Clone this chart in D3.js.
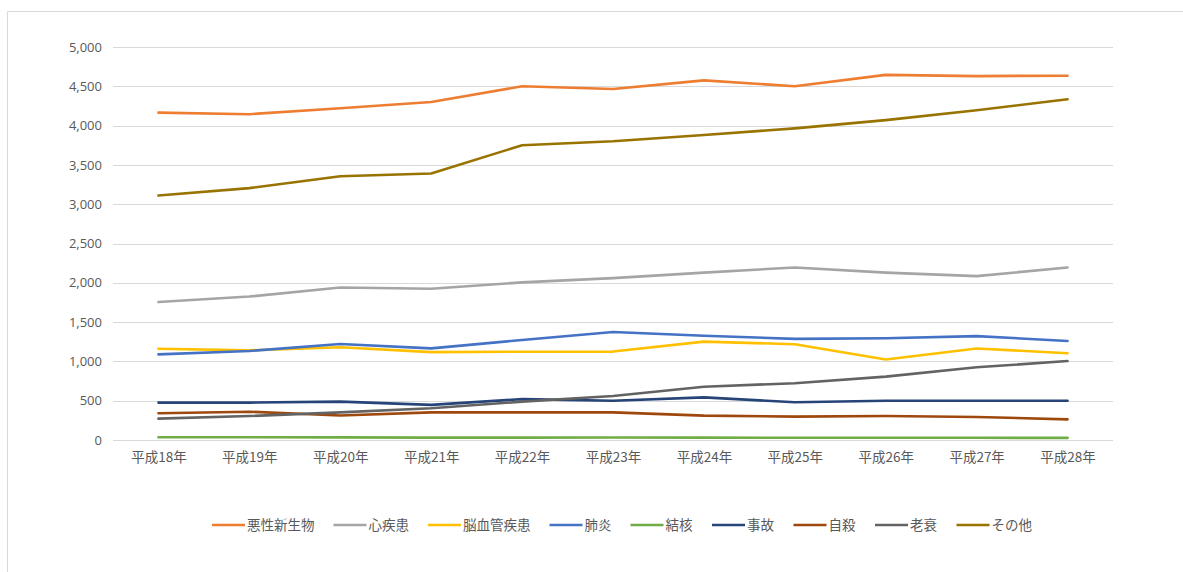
<!DOCTYPE html>
<html>
<head>
<meta charset="utf-8">
<script src="https://cdn.jsdelivr.net/npm/d3@7"></script>
<style>
  html, body { margin: 0; padding: 0; background: #fff; }
  svg { display: block; }
  text { font-family: "Noto Sans CJK JP", "Noto Sans", sans-serif; fill: #595959; }
</style>
</head>
<body>
<svg id="chart" width="1183" height="572"></svg>
<script>
const categories = ["平成18年","平成19年","平成20年","平成21年","平成22年","平成23年","平成24年","平成25年","平成26年","平成27年","平成28年"];
const seriesNames = ["悪性新生物","心疾患","脳血管疾患","肺炎","結核","事故","自殺","老衰","その他"];
const seriesColors = ["#ED7D31","#A5A5A5","#FFC000","#4472C4","#70AD47","#264478","#9E480E","#636363","#997300"];
const akusei   = [4165, 4145, 4220, 4300, 4500, 4465, 4575, 4500, 4645, 4630, 4635];
const shinshik = [1755, 1825, 1940, 1925, 2005, 2060, 2130, 2195, 2130, 2085, 2195];
const noukekk  = [1160, 1140, 1180, 1118, 1123, 1125, 1252, 1218, 1025, 1165, 1103];
const haien    = [1090, 1132, 1222, 1166, 1272, 1375, 1327, 1287, 1295, 1322, 1260];
const kekkaku  = [35, 35, 33, 30, 30, 32, 30, 28, 28, 28, 27];
const jiko     = [476, 476, 488, 447, 520, 500, 542, 480, 500, 500, 500];
const jisatsu  = [340, 360, 312, 352, 352, 352, 310, 298, 305, 293, 263];
const rousui   = [272, 305, 352, 403, 488, 560, 678, 722, 806, 925, 1005];
const sonota   = [3110, 3205, 3355, 3390, 3750, 3800, 3880, 3965, 4070, 4195, 4335];
const yTicks   = [0, 500, 1000, 1500, 2000, 2500, 3000, 3500, 4000, 4500, 5000];

const seriesValues = [akusei, shinshik, noukekk, haien, kekkaku, jiko, jisatsu, rousui, sonota];

const svg = d3.select("#chart");

// chart border
svg.append("path")
  .attr("d", "M7.5,572 L7.5,11.5 L1183,11.5")
  .attr("fill", "none").attr("stroke", "#d9d9d9").attr("stroke-width", 1);

const plotLeft = 113, plotRight = 1113, plotTop = 47, plotBottom = 440;

const x = d3.scalePoint().domain(categories).range([plotLeft, plotRight]).padding(0.5);
const y = d3.scaleLinear().domain([0, 5000]).range([plotBottom, plotTop]);

// gridlines
svg.append("g")
  .selectAll("line").data(yTicks).join("line")
  .attr("x1", plotLeft).attr("x2", plotRight)
  .attr("y1", d => Math.round(y(d)) + 0.5).attr("y2", d => Math.round(y(d)) + 0.5)
  .attr("stroke", "#d9d9d9").attr("stroke-width", 1);

// y axis
const yAxis = svg.append("g")
  .attr("transform", `translate(${plotLeft},0)`)
  .call(d3.axisLeft(y).tickValues(yTicks).tickFormat(d3.format(",")).tickSize(0).tickPadding(11));
yAxis.select(".domain").remove();
yAxis.selectAll("text").attr("font-size", "13px").style("fill", "#595959")
  .style("font-family", '"Open Sans", "Noto Sans", sans-serif');

// x axis
const xAxis = svg.append("g")
  .attr("transform", `translate(0,${plotBottom})`)
  .call(d3.axisBottom(x).tickSize(0).tickPadding(12));
xAxis.select(".domain").remove();
xAxis.selectAll("text").attr("font-size", "13.5px").style("fill", "#595959");

// lines
const line = d3.line().x((d, i) => x(categories[i])).y(d => y(d));
svg.append("g")
  .selectAll("path").data(seriesValues).join("path")
  .attr("d", d => line(d))
  .attr("fill", "none")
  .attr("stroke", (d, i) => seriesColors[i])
  .attr("stroke-width", 2.6)
  .attr("stroke-linejoin", "round")
  .attr("stroke-linecap", "round");

// legend
const legend = svg.append("g").attr("transform", "translate(0,525)");
const lineLen = 33, textGap = 2, itemGap = 19;
const items = legend.selectAll("g").data(seriesNames).join("g");
items.append("line")
  .attr("x1", 0).attr("x2", lineLen).attr("y1", 0).attr("y2", 0)
  .attr("stroke", (d, i) => seriesColors[i]).attr("stroke-width", 2.6);
items.append("text")
  .attr("x", lineLen + textGap).attr("y", 0).attr("dy", "0.35em")
  .attr("font-size", "13.5px").text(d => d);
let widths = [];
items.each(function() { widths.push(this.getBBox().width); });
const total = d3.sum(widths) + itemGap * (widths.length - 1);
let cx = 622 - total / 2;
items.attr("transform", (d, i) => {
  const t = `translate(${cx},0)`;
  cx += widths[i] + itemGap;
  return t;
});
</script>
</body>
</html>
